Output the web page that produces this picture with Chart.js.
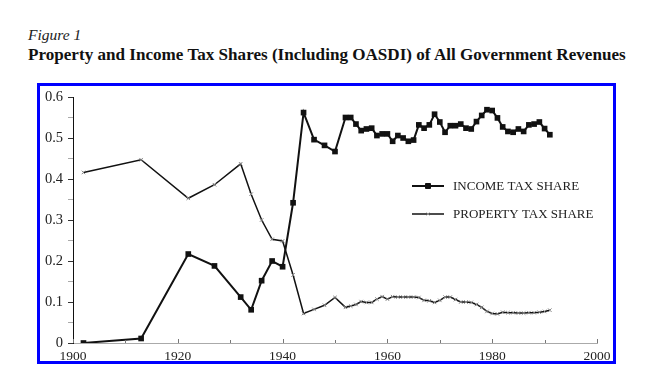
<!DOCTYPE html>
<html>
<head>
<meta charset="utf-8">
<script src="https://cdn.jsdelivr.net/npm/chart.js@4/dist/chart.umd.min.js"></script>
<style>
  html, body { margin: 0; padding: 0; background: #fff; }
  body { width: 646px; height: 377px; position: relative; overflow: hidden; font-family: "Liberation Serif", "DejaVu Serif", serif; }
  #fig { position: absolute; left: 28px; top: 27px; font-size: 15.5px; line-height: 15px; font-style: italic; color: #222; }
  #title { position: absolute; left: 28px; top: 46px; font-size: 17.1px; line-height: 17px; font-weight: bold; color: #111; white-space: nowrap; }
  #frame { position: absolute; left: 37px; top: 83px; width: 579px; height: 281px; border: 3px solid #0000ff; box-sizing: border-box; pointer-events: none; }
  #wrap { position: absolute; left: 0; top: 0; width: 646px; height: 377px; }
</style>
</head>
<body>
<div id="fig">Figure 1</div>
<div id="title">Property and Income Tax Shares (Including OASDI) of All Government Revenues</div>
<div id="wrap"><canvas id="chart" width="646" height="377"></canvas></div>
<div id="frame"></div>
<script>
// ---- data ----
const years = [1902, 1913, 1922, 1927, 1932, 1934, 1936, 1938, 1940, 1942, 1944, 1946, 1948, 1950,
  1952, 1953, 1954, 1955, 1956, 1957, 1958, 1959, 1960, 1961,
  1962, 1963, 1964, 1965, 1966, 1967, 1968, 1969, 1970, 1971,
  1972, 1973, 1974, 1975, 1976, 1977, 1978, 1979, 1980, 1981,
  1982, 1983, 1984, 1985, 1986, 1987, 1988, 1989, 1990, 1991];

const incomeShare = [0.000, 0.011, 0.217, 0.188, 0.112, 0.081, 0.152, 0.200, 0.186, 0.342, 0.562, 0.496, 0.482, 0.467,
  0.550, 0.550, 0.534, 0.518, 0.522, 0.524, 0.506, 0.510, 0.510, 0.492,
  0.506, 0.500, 0.492, 0.495, 0.532, 0.524, 0.532, 0.558, 0.539, 0.514,
  0.530, 0.530, 0.534, 0.524, 0.522, 0.540, 0.555, 0.569, 0.567, 0.549,
  0.527, 0.516, 0.514, 0.522, 0.516, 0.532, 0.534, 0.539, 0.523, 0.508];

const propertyShare = [0.416, 0.447, 0.353, 0.386, 0.437, 0.363, 0.300, 0.253, 0.249, 0.166, 0.072, 0.082, 0.092, 0.111,
  0.087, 0.090, 0.094, 0.101, 0.099, 0.099, 0.107, 0.113, 0.107, 0.113,
  0.112, 0.112, 0.112, 0.112, 0.111, 0.104, 0.103, 0.099, 0.104, 0.112,
  0.112, 0.106, 0.100, 0.100, 0.099, 0.094, 0.087, 0.077, 0.072, 0.071,
  0.075, 0.074, 0.074, 0.073, 0.073, 0.074, 0.074, 0.075, 0.077, 0.080];

const seriesLabels = ['INCOME TAX SHARE', 'PROPERTY TAX SHARE'];
const xTicks = [1900, 1920, 1940, 1960, 1980, 2000];
const yTicks = [0, 0.1, 0.2, 0.3, 0.4, 0.5, 0.6];

const toPoints = (vals) => vals.map((v, i) => ({ x: years[i], y: v }));

// legend drawn inside the plot, like the printed figure
const inlineLegend = {
  id: 'inlineLegend',
  afterDraw(chart) {
    const { ctx, chartArea } = chart;
    const x0 = chartArea.left + 339;
    const rows = [chartArea.top + 89, chartArea.top + 117];
    ctx.save();
    chart.data.datasets.forEach((ds, i) => {
      const y = rows[i];
      ctx.strokeStyle = ds.borderColor;
      ctx.lineWidth = ds.borderWidth;
      ctx.beginPath();
      ctx.moveTo(x0, y);
      ctx.lineTo(x0 + 32, y);
      ctx.stroke();
      ctx.fillStyle = ds.pointBackgroundColor;
      ctx.strokeStyle = ds.pointBorderColor;
      ctx.lineWidth = 1;
      Chart.helpers.drawPoint(ctx, {
        pointStyle: ds.pointStyle, rotation: 0,
        radius: ds.pointRadius - 0.5, borderWidth: 1
      }, x0 + 16, y);
      ctx.fillStyle = '#222';
      ctx.font = '13px "Liberation Serif", serif';
      ctx.textBaseline = 'middle';
      ctx.fillText(ds.label, x0 + 41, y + 0.5);
    });
    ctx.restore();
  }
};

// small inward ticks along the bottom axis
const xInnerTicks = {
  id: 'xInnerTicks',
  afterDraw(chart) {
    const { ctx } = chart;
    const xs = chart.scales.x;
    const bottom = chart.chartArea.bottom;
    ctx.save();
    ctx.strokeStyle = '#777';
    ctx.lineWidth = 1;
    for (let v = xs.min; v <= xs.max; v += 10) {
      const px = Math.round(xs.getPixelForValue(v)) + 0.5;
      ctx.beginPath();
      ctx.moveTo(px, bottom);
      ctx.lineTo(px, bottom - (v % 20 === 0 ? 4 : 3));
      ctx.stroke();
    }
    ctx.restore();
  }
};

new Chart(document.getElementById('chart'), {
  type: 'line',
  data: {
    datasets: [
      {
        label: seriesLabels[0],
        data: toPoints(incomeShare),
        borderColor: '#111',
        borderWidth: 2,
        pointStyle: 'rect',
        pointRadius: 4,
        pointBackgroundColor: '#111',
        pointBorderColor: '#111',
        pointBorderWidth: 0,
        tension: 0
      },
      {
        label: seriesLabels[1],
        data: toPoints(propertyShare),
        borderColor: '#111',
        borderWidth: 1.5,
        pointStyle: 'crossRot',
        pointRadius: 2.5,
        pointBackgroundColor: '#888',
        pointBorderColor: '#888',
        pointBorderWidth: 1,
        tension: 0
      }
    ]
  },
  options: {
    responsive: false,
    animation: false,
    events: [],
    layout: { padding: { left: 33, right: 49, top: 97, bottom: 14 } },
    plugins: { legend: { display: false }, tooltip: { enabled: false } },
    scales: {
      x: {
        type: 'linear',
        min: 1900,
        max: 2000,
        afterBuildTicks: (s) => { s.ticks = xTicks.map(v => ({ value: v })); },
        afterFit: (s) => { s.height = 20; },
        border: { color: '#aaa', width: 1, dash: [3, 1] },
        grid: { display: true, drawOnChartArea: false, drawTicks: false },
        ticks: {
          color: '#222', padding: 5, maxRotation: 0,
          font: { family: '"Liberation Serif", serif', size: 13.5 },
          callback: (v) => String(v)
        }
      },
      y: {
        type: 'linear',
        min: 0,
        max: 0.6,
        afterBuildTicks: (s) => {
          const t = [];
          yTicks.forEach((v, i) => {
            t.push({ value: v });
            if (i < yTicks.length - 1) t.push({ value: (v + yTicks[i + 1]) / 2, minor: true });
          });
          s.ticks = t;
        },
        afterFit: (s) => { s.width = 40; },
        border: { color: '#111', width: 1 },
        grid: {
          drawOnChartArea: false,
          drawTicks: true,
          tickLength: 5,
          color: (c) => (c.tick && c.tick.minor ? '#aaa' : '#333')
        },
        ticks: {
          color: '#222',
          padding: 5,
          font: { family: '"Liberation Serif", serif', size: 14.5 },
          callback: (v) => {
            if (!yTicks.some(t => Math.abs(t - v) < 1e-9)) return '';
            return v === 0 ? '0' : v.toFixed(1);
          }
        }
      }
    }
  },
  plugins: [inlineLegend, xInnerTicks]
});
</script>
</body>
</html>
